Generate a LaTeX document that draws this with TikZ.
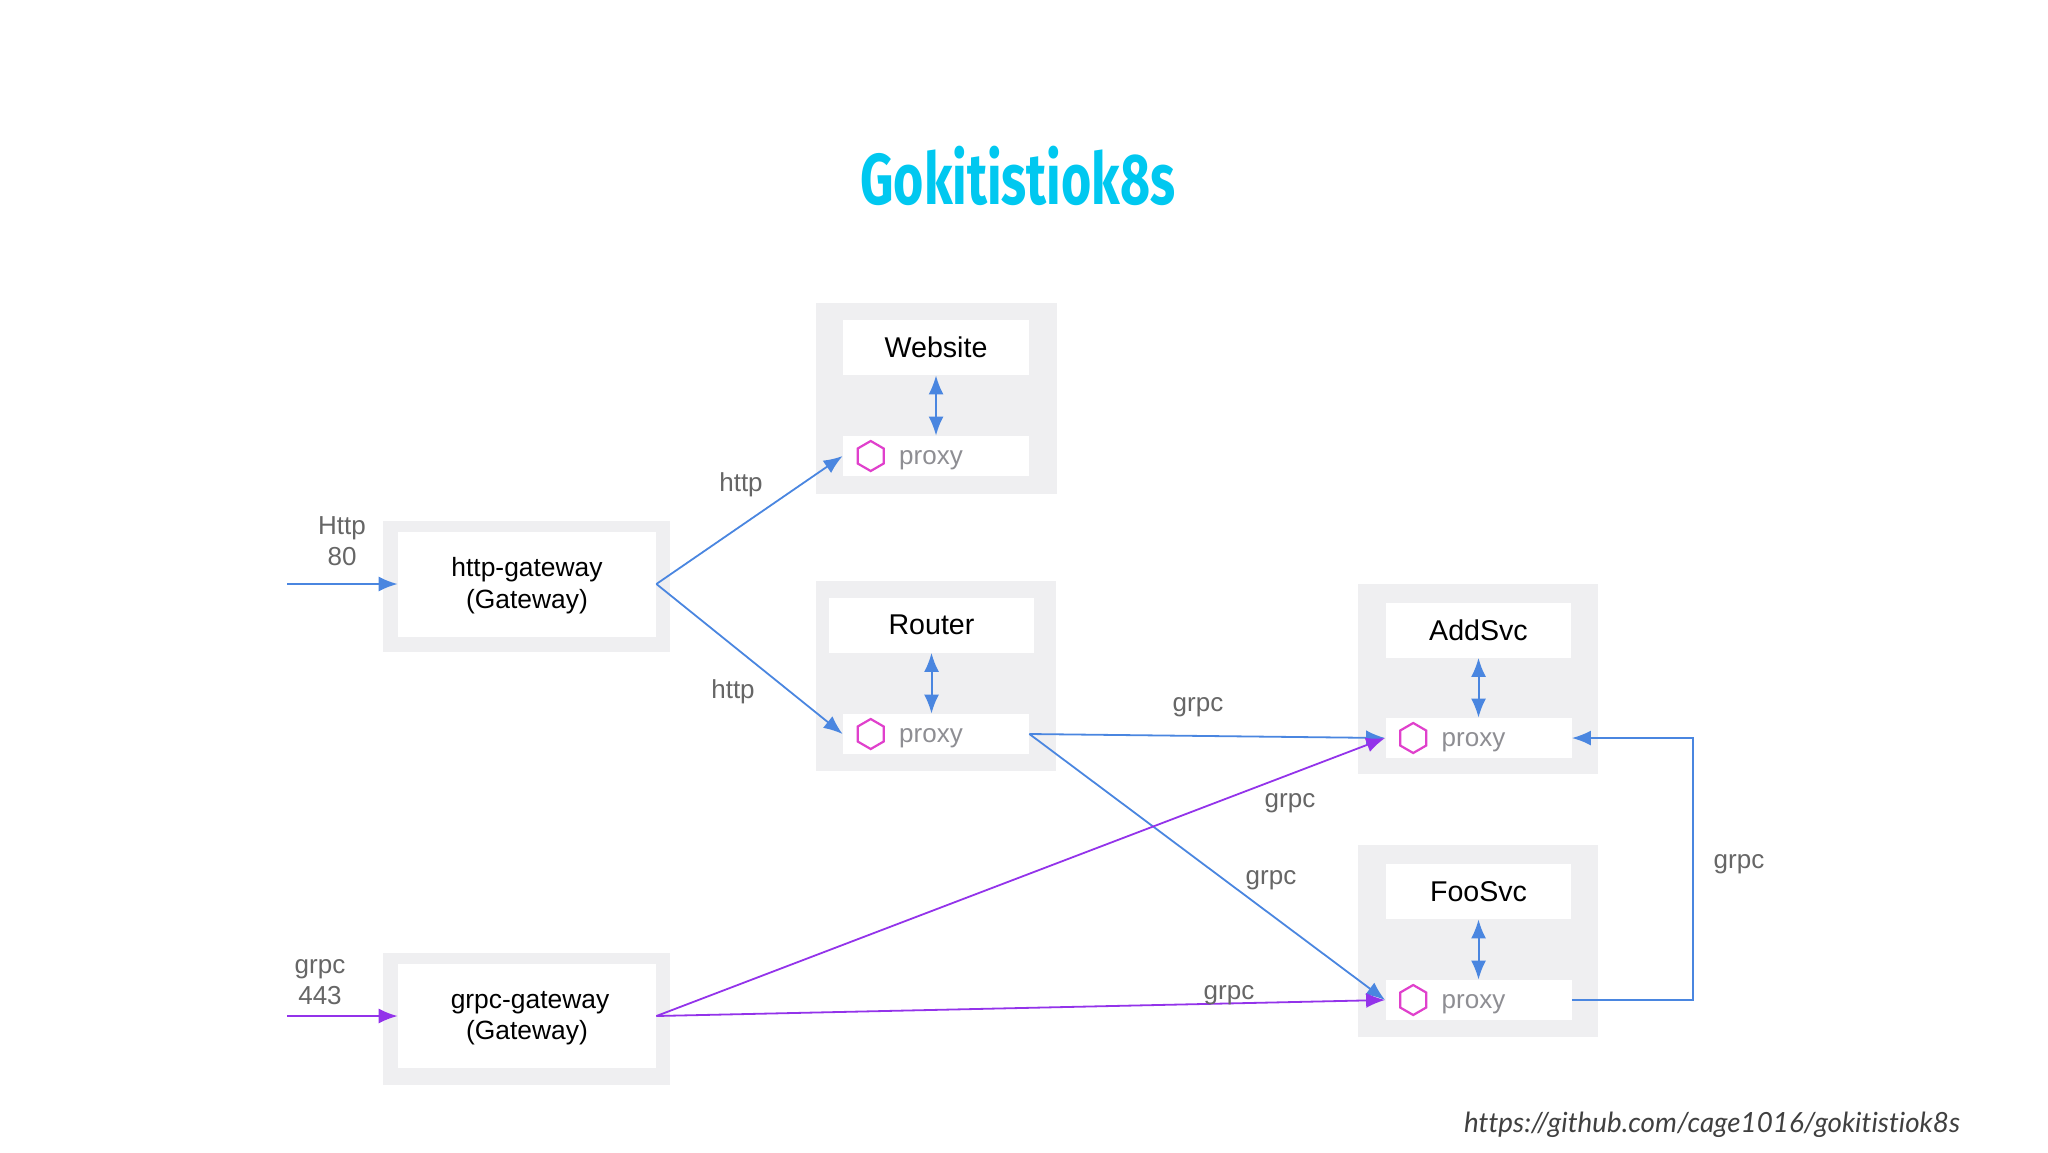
\documentclass[tikz,border=0pt]{standalone}
\usepackage{fontspec}
\setmainfont{Liberation Sans}
\newfontfamily\titlefont[FakeStretch=0.72]{Fira Sans}
\newfontfamily\urlfont[Ligatures=NoCommon]{Lato}
\usetikzlibrary{arrows.meta,positioning,shapes.geometric}
\definecolor{wireblue}{HTML}{4A86E0}
\definecolor{wirepurple}{HTML}{9333EA}
\definecolor{hexpink}{HTML}{E040CC}
\definecolor{boxgray}{HTML}{EFEFF1}
\definecolor{labelgray}{HTML}{666666}
\definecolor{proxygray}{HTML}{8E8E93}
\definecolor{titlecyan}{HTML}{00C8F0}
\tikzset{
  outerbox/.style={fill=boxgray,inner sep=0pt},
  innerbox/.style={fill=white,inner sep=0pt,align=center},
  gwtext/.style={inner sep=0pt,align=center,font=\fontsize{13.2}{15.7}\selectfont},
  svcname/.style={innerbox,minimum height=27.5pt,font=\fontsize{14.3}{17}\selectfont},
  proxybox/.style={innerbox,minimum height=20pt},
  hexmark/.style={regular polygon,regular polygon sides=6,draw=hexpink,line width=1.1pt,inner sep=0pt,minimum size=15pt},
  proxylabel/.style={inner sep=0pt,yshift=-2.1pt,text=proxygray,font=\fontsize{13}{15}\selectfont},
  wirelabel/.style={inner sep=0pt,text=labelgray,align=center,font=\fontsize{13}{15.7}\selectfont},
  bluewire/.style={draw=wireblue,line width=0.9pt,-{Latex[length=9.5pt,width=7.5pt]}},
  purplewire/.style={draw=wirepurple,line width=0.9pt,-{Latex[length=9.5pt,width=7.5pt]}},
  bothway/.style={draw=wireblue,line width=1pt,{Latex[length=9.5pt,width=7.5pt]}-{Latex[length=9.5pt,width=7.5pt]}}
}
\begin{document}
\begin{tikzpicture}[x=0.5pt,y=-0.5pt]
    \useasboundingbox (0,0) rectangle (2048,1152);
    \node[inner sep=0pt,text=titlecyan,font=\titlefont\bfseries\fontsize{36}{42}\selectfont] (title) at (1018,176) {Gokitistiok8s};
    \node[inner sep=0pt,text=black!75,font=\urlfont\itshape\fontsize{13.9}{16}\selectfont] (url) at (1712,1125) {https://github.com/cage1016/gokitistiok8s};
    % gray boxes behind everything
    \node[outerbox,minimum width=120.5pt,minimum height=95.5pt] (websitebg) at (936.5,398.5) {};
    \node[outerbox,minimum width=120pt,minimum height=95pt] (routerbg) at (936,676) {};
    \node[outerbox,minimum width=120pt,minimum height=95pt] (addsvcbg) at (1478,679) {};
    \node[outerbox,minimum width=120pt,minimum height=96pt] (foosvcbg) at (1478,941) {};
    \node[outerbox,minimum width=143.5pt,minimum height=65.5pt] (httpbg) at (526.5,586.5) {};
    \node[outerbox,minimum width=143.5pt,minimum height=66pt] (grpcbg) at (526.5,1019) {};
    % gateways
    \node[innerbox,minimum width=129pt,minimum height=52.5pt] (httpgw) at (527,584) {};
    \node[innerbox,minimum width=129pt,minimum height=52pt] (grpcgw) at (527,1016) {};
    \node[gwtext,yshift=-0.8pt] (httptext) at (httpgw) {http-gateway\\(Gateway)};
    \node[gwtext,yshift=-1.2pt] (grpctext) at (grpcgw) {\hspace{3pt}grpc-gateway\\(Gateway)};
    % services and sidecars
    \node[svcname,minimum width=93pt] (website) at (936,347.5) {Website};
    \node[svcname,minimum width=102.5pt] (router) at (931.5,625) {Router};
    \node[svcname,minimum width=92.5pt] (addsvc) at (1478.5,630) {AddSvc};
    \node[svcname,minimum width=92.5pt] (foosvc) at (1478.5,891.5) {FooSvc};
    \foreach \svc/\cx/\cy in {web/936/456,router/936/734,add/1478.5/738,foo/1478.5/1000}{
      \node[proxybox,minimum width=93pt] (\svc proxy) at (\cx,\cy) {};
      \node[hexmark,shape border rotate=30,right=7pt of \svc proxy.west] (\svc hex) {};
      \node[proxylabel,right=7pt of \svc hex] (\svc text) {proxy};}
    % sidecar links
    \draw[bothway] (website.south) -- (webproxy.north);
    \draw[bothway] (router.south) -- (router.south |- routerproxy.north);
    \draw[bothway] (addsvc.south) -- (addproxy.north);
    \draw[bothway] (foosvc.south) -- (fooproxy.north);
    % traffic
    \coordinate (httpin) at (287,584);
    \coordinate (grpcin) at (287,1016);
    \draw[bluewire] (httpin) -- (httpgw.west);
    \draw[purplewire] (grpcin) -- (grpcgw.west);
    \draw[bluewire] (httpgw.east) -- (webproxy.west);
    \draw[bluewire] (httpgw.east) -- (routerproxy.west);
    \draw[bluewire] (routerproxy.east) -- (addproxy.west);
    \draw[bluewire] (routerproxy.east) -- (fooproxy.west);
    \draw[purplewire] (grpcgw.east) -- (addproxy.west);
    \draw[purplewire] (grpcgw.east) -- (fooproxy.west);
    \draw[bluewire] (fooproxy.east) -- ++(121,0) |- (addproxy.east);
    % labels
    \node[wirelabel] (httplabel) at (342,541) {Http\\80};
    \node[wirelabel] (grpclabel) at (320,982) {grpc\\443};
    \node[wirelabel] (httpup) at (741,485) {http};
    \node[wirelabel] (httpdown) at (733,692) {http};
    \node[wirelabel] (grpcadd) at (1198,707) {grpc};
    \node[wirelabel] (grpcpurple) at (1290,803) {grpc};
    \node[wirelabel] (grpcfoo) at (1271,880) {grpc};
    \node[wirelabel] (grpclow) at (1229,995) {grpc};
    \node[wirelabel] (grpcright) at (1739,864) {grpc};
\end{tikzpicture}
\end{document}
